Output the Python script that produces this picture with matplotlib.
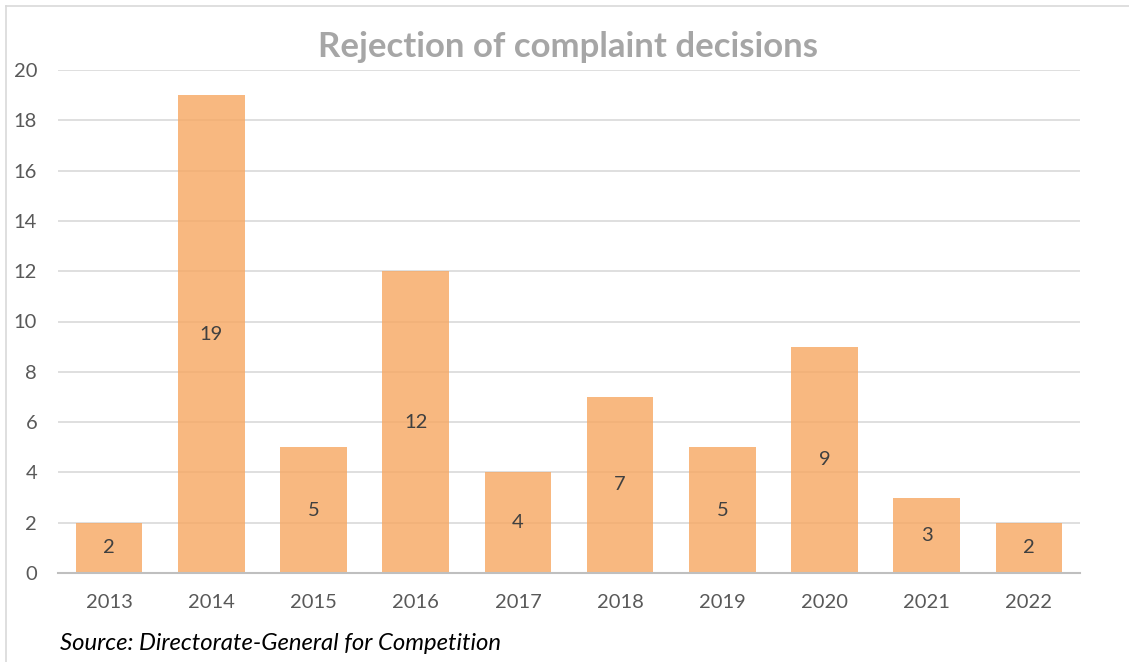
import matplotlib
matplotlib.use("Agg")
import matplotlib.pyplot as plt
from matplotlib.lines import Line2D

years = ["2013", "2014", "2015", "2016", "2017", "2018", "2019", "2020", "2021", "2022"]
decisions = [2, 19, 5, 12, 4, 7, 5, 9, 3, 2]
y_ticks = [0, 2, 4, 6, 8, 10, 12, 14, 16, 18, 20]

plt.rcParams['font.family'] = ['Lato', 'DejaVu Sans']

fig = plt.figure(figsize=(11.29, 6.62), dpi=100)
ax = fig.add_axes([58/1129, 1 - 573/662, (1080 - 58)/1129, (573 - 70)/662])

x = list(range(len(years)))
ax.bar(x, decisions, width=0.65, color='#F7A964', alpha=0.82, edgecolor='none', zorder=3)
for xi, v in zip(x, decisions):
    ax.text(xi, v / 2, str(v), ha='center', va='center', fontsize=14.5, color='#404040', zorder=4)

ax.set_xlim(-0.5, len(years) - 0.5)
ax.set_ylim(0, 20)
ax.set_yticks(y_ticks)
ax.set_yticklabels([str(t) for t in y_ticks])
ax.set_xticks(x)
ax.set_xticklabels(years)
ax.yaxis.grid(True, color='#D9D9D9', linewidth=1.2, zorder=0)
ax.set_axisbelow(True)
for s in ['top', 'right', 'left']:
    ax.spines[s].set_visible(False)
ax.spines['bottom'].set_color('#BFBFBF')
ax.spines['bottom'].set_linewidth(1.5)
ax.spines['bottom'].set_zorder(5)
ax.tick_params(axis='both', length=0, labelsize=14.5, labelcolor='#595959')
ax.tick_params(axis='y', pad=15)
ax.tick_params(axis='x', pad=15)

fig.text(568/1129, 1 - 47/662, "Rejection of complaint decisions", ha='center', va='center',
         fontsize=25, fontweight='bold', color='#A6A6A6')
fig.text(60/1129, 1 - 643/662, "Source: Directorate-General for Competition", ha='left', va='center',
         fontsize=17.2, style='italic', color='#000000')

# figure border (left and top)
fig.add_artist(Line2D([6/1129, 6/1129], [0, 1 - 6/662], transform=fig.transFigure, color='#D9D9D9', linewidth=1.2))
fig.add_artist(Line2D([6/1129, 1], [1 - 6/662, 1 - 6/662], transform=fig.transFigure, color='#D9D9D9', linewidth=1.2))

fig.savefig("out.png", dpi=100)
